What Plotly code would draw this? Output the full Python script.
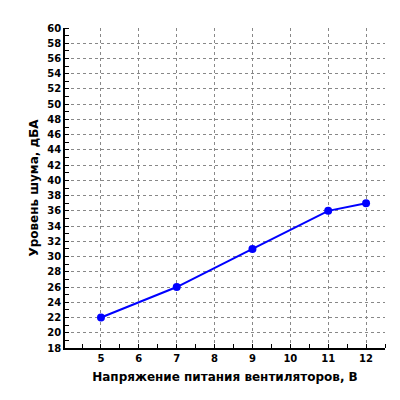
import plotly.graph_objects as go

voltage = [5, 7, 9, 11, 12]
noise = [22, 26, 31, 36, 37]

fig = go.Figure()
fig.add_trace(go.Scatter(
    x=voltage, y=noise, mode="lines+markers",
    line=dict(color="#0000ff", width=2),
    marker=dict(color="#0000ff", size=8),
))

axis_font = dict(family="DejaVu Sans", size=10, color="black")
fig.update_layout(
    width=400, height=400,
    margin=dict(l=57, r=23, t=20, b=60),
    plot_bgcolor="white", paper_bgcolor="white",
    showlegend=False,
    font=axis_font,
)
fig.update_xaxes(
    range=[4.05, 12.5], tickvals=list(range(5, 13)),
    ticktext=[f"<b>{v}</b>" for v in range(5, 13)],
    showgrid=True, gridcolor="#888", griddash="dot", gridwidth=1,
    showline=True, linecolor="black", linewidth=1.5,
    ticks="", zeroline=False, automargin=False,
    minor=dict(dtick=0.5, tick0=4.5, ticks="inside", ticklen=4, tickcolor="black", showgrid=False),
    title=dict(text="<b>Напряжение питания вентиляторов, В</b>", font=dict(size=12), standoff=10),
)
fig.update_yaxes(
    range=[18, 60],
    tickvals=list(range(18, 61, 2)),
    ticktext=[f"<b>{v}</b>" for v in range(18, 61, 2)],
    showgrid=True, gridcolor="#888", griddash="dot", gridwidth=1,
    showline=True, linecolor="black", linewidth=1.5,
    ticks="", zeroline=False, automargin=False,
    minor=dict(dtick=1, tick0=19, ticks="inside", ticklen=4, tickcolor="black", showgrid=False),
    title=dict(text="<b>Уровень шума, дБА</b>", font=dict(size=12), standoff=6),
)
fig.write_html("out.html")
